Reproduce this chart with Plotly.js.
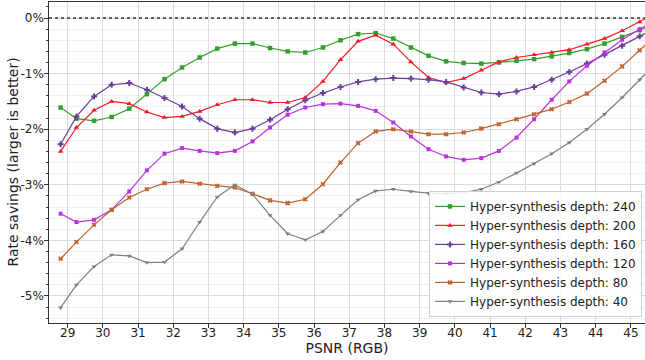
<!DOCTYPE html>
<html>
<head>
<meta charset="utf-8">
<script src="https://cdn.plot.ly/plotly-3.0.1.min.js"></script>
<style>html,body{margin:0;padding:0;background:#fff}#chart{width:645px;height:360px}</style>
</head>
<body>
<div id="chart"></div>
<script>
const psnr = [28.8, 29.25, 29.75, 30.25, 30.75, 31.25, 31.75, 32.25, 32.75, 33.25, 33.75, 34.25, 34.75, 35.25, 35.75, 36.25, 36.75, 37.25, 37.75, 38.25, 38.75, 39.25, 39.75, 40.25, 40.75, 41.25, 41.75, 42.25, 42.75, 43.25, 43.75, 44.25, 44.75, 45.25, 45.75];

const depth240 = [-1.61, -1.81, -1.85, -1.78, -1.63, -1.37, -1.10, -0.89, -0.71, -0.55, -0.46, -0.46, -0.54, -0.60, -0.62, -0.53, -0.40, -0.29, -0.27, -0.37, -0.53, -0.68, -0.78, -0.81, -0.82, -0.80, -0.77, -0.74, -0.69, -0.63, -0.56, -0.46, -0.34, -0.22, -0.08];
const depth200 = [-2.40, -1.97, -1.66, -1.50, -1.54, -1.69, -1.79, -1.77, -1.68, -1.56, -1.47, -1.47, -1.52, -1.52, -1.43, -1.14, -0.75, -0.42, -0.31, -0.47, -0.79, -1.07, -1.16, -1.09, -0.94, -0.79, -0.71, -0.66, -0.62, -0.57, -0.47, -0.37, -0.23, -0.07, 0.10];
const depth160 = [-2.27, -1.77, -1.41, -1.20, -1.17, -1.29, -1.44, -1.59, -1.81, -1.99, -2.06, -1.99, -1.83, -1.64, -1.48, -1.35, -1.24, -1.15, -1.10, -1.08, -1.09, -1.11, -1.15, -1.25, -1.34, -1.37, -1.32, -1.24, -1.11, -0.97, -0.82, -0.66, -0.50, -0.33, -0.16];
const depth120 = [-3.52, -3.67, -3.63, -3.45, -3.12, -2.74, -2.44, -2.34, -2.39, -2.43, -2.39, -2.22, -1.97, -1.74, -1.61, -1.55, -1.54, -1.58, -1.67, -1.88, -2.13, -2.36, -2.49, -2.55, -2.52, -2.39, -2.15, -1.82, -1.47, -1.14, -0.86, -0.62, -0.39, -0.20, -0.03];
const depth80 = [-4.33, -4.03, -3.72, -3.45, -3.23, -3.08, -2.97, -2.94, -2.98, -3.02, -3.05, -3.16, -3.28, -3.33, -3.26, -2.99, -2.60, -2.25, -2.04, -2.00, -2.04, -2.09, -2.09, -2.06, -1.99, -1.91, -1.82, -1.73, -1.64, -1.51, -1.36, -1.13, -0.87, -0.58, -0.27];
const depth40 = [-5.21, -4.80, -4.47, -4.26, -4.28, -4.40, -4.39, -4.15, -3.67, -3.22, -3.00, -3.17, -3.55, -3.88, -3.99, -3.84, -3.55, -3.27, -3.11, -3.08, -3.12, -3.15, -3.16, -3.14, -3.08, -2.95, -2.79, -2.62, -2.44, -2.24, -2.00, -1.73, -1.43, -1.11, -0.77];

const seriesNames = ["Hyper-synthesis depth: 240", "Hyper-synthesis depth: 200", "Hyper-synthesis depth: 160", "Hyper-synthesis depth: 120", "Hyper-synthesis depth: 80", "Hyper-synthesis depth: 40"];
const seriesValues = [depth240, depth200, depth160, depth120, depth80, depth40];
const colors = ["#33a02c", "#ee1c24", "#6a3d9a", "#bb33dd", "#c0622c", "#808080"];
const symbols = ["square", "triangle-up", "cross", "square", "x", "triangle-down"];
const sizes = [4.5, 5, 5, 4, 4.5, 4.5];

const yTickVals = [0, -1, -2, -3, -4, -5];
const yTickText = ["0%", "-1%", "-2%", "-3%", "-4%", "-5%"];
const xTitle = "PSNR (RGB)";
const yTitle = "Rate savings (larger is better)";

const font = "DejaVu Sans, sans-serif";

const traces = seriesNames.map((name, i) => ({
  type: "scatter",
  mode: "lines+markers",
  name: name,
  x: psnr,
  y: seriesValues[i],
  line: {color: colors[i], width: 1.2},
  marker: {color: colors[i], symbol: symbols[i], size: sizes[i], line: {width: 0, color: colors[i]}},
  cliponaxis: true
}));

const layout = {
  width: 645,
  height: 360,
  margin: {l: 49, r: 0, t: 2, b: 37},
  paper_bgcolor: "#ffffff",
  plot_bgcolor: "#ffffff",
  font: {family: font, size: 12, color: "#222"},
  showlegend: true,
  legend: {
    x: 0.995, y: 0.019, xanchor: "right", yanchor: "bottom",
    bgcolor: "rgba(255,255,255,0.85)",
    bordercolor: "#d0d0d0", borderwidth: 1,
    font: {family: font, size: 12, color: "#222"},
    itemwidth: 30,
    tracegroupgap: 0
  },
  xaxis: {
    range: [28.47, 45.4],
    tickmode: "linear", tick0: 29, dtick: 1,
    showgrid: true, gridcolor: "#dcdcdc", gridwidth: 1,
    zeroline: false,
    ticks: "outside", ticklen: 3.5, tickcolor: "#333",
    ticklabelstandoff: -5,
    showline: true, linecolor: "#333", linewidth: 1.2, mirror: true,
    tickfont: {family: font, size: 12, color: "#222"},
    title: {text: xTitle, font: {family: font, size: 14, color: "#222"}, standoff: 4}
  },
  yaxis: {
    range: [-5.486, 0.288],
    tickmode: "array", tickvals: yTickVals, ticktext: yTickText,
    showgrid: true, gridcolor: "#dcdcdc", gridwidth: 1,
    zeroline: false,
    ticks: "outside", ticklen: 3.5, tickcolor: "#333",
    ticklabelstandoff: -2,
    showline: true, linecolor: "#333", linewidth: 1.2, mirror: true,
    tickfont: {family: font, size: 12, color: "#222"},
    minor: {tickmode: "linear", tick0: 0, dtick: 0.2, showgrid: true, gridcolor: "#efefef", gridwidth: 1, ticks: "outside", ticklen: 2, tickcolor: "#333"}
  },
  annotations: [{
    text: yTitle, textangle: -90, showarrow: false,
    xref: "paper", yref: "paper", x: 0, y: 0.5, xanchor: "center", yanchor: "middle",
    xshift: -37,
    font: {family: font, size: 14, color: "#222"}
  }],
  shapes: [{
    type: "line", xref: "paper", x0: 0, x1: 1, yref: "y", y0: 0, y1: 0,
    line: {color: "#333", width: 1.5, dash: "dot"}, layer: "above"
  }]
};

Plotly.newPlot("chart", traces, layout, {staticPlot: true, displayModeBar: false});
</script>
</body>
</html>
